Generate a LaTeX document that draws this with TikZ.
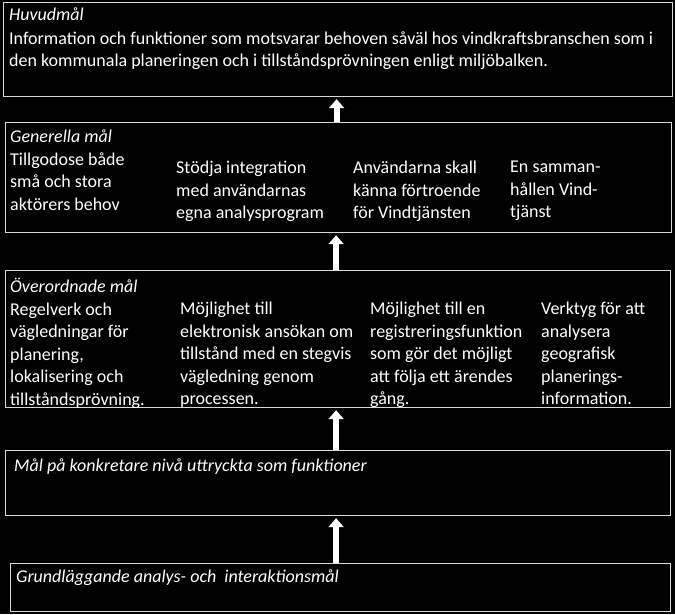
\documentclass[tikz,border=0pt]{standalone}
\usepackage{fontspec}
\setmainfont{Carlito}
\usetikzlibrary{arrows.meta}
\begin{document}
\begin{tikzpicture}[x=1pt,y=-1pt]
\tikzset{goalbox/.style={draw=white!85!black,line width=1.2pt,anchor=north west,inner sep=0pt}}
\tikzset{goaltext/.style={text=white,anchor=north west,align=left,inner sep=0pt,font=\fontsize{18}{22.5}\selectfont}}
\tikzset{uparrow/.style={white,line width=6pt,shorten >=2pt,-{Triangle[width=15pt,length=9pt]}}}
\fill[black] (0,0) rectangle (675,614);
\useasboundingbox (0,0) rectangle (675,614);
\node[goalbox,minimum width=669pt,minimum height=94pt] (huvud) at (3,2) {};
\node[goalbox,minimum width=666pt,minimum height=110pt] (generella) at (5,122) {};
\node[goalbox,minimum width=665pt,minimum height=137pt] (overordnade) at (5,270) {};
\node[goalbox,minimum width=665pt,minimum height=65pt] (konkret) at (5,450) {};
\node[goalbox,minimum width=660pt,minimum height=48pt] (grund) at (10,563) {};
\node[goaltext] (huvudtxt) at (9,8) {\textit{Huvudmål}\\[1pt]Information och funktioner som motsvarar behoven såväl hos vindkraftsbranschen som i\\den kommunala planeringen och i tillståndsprövningen enligt miljöbalken.};
\node[goaltext] (gen1) at (10,130) {\textit{Generella mål}\\Tillgodose både\\små och stora\\aktörers behov};
\node[goaltext] (gen2) at (176,161) {Stödja integration\\med användarnas\\egna analysprogram};
\node[goaltext] (gen3) at (353,161) {Användarna skall\\känna förtroende\\för Vindtjänsten};
\node[goaltext] (gen4) at (510,161) {En samman-\\hållen Vind-\\tjänst};
\node[goaltext] (over1) at (10,278) {\textit{Överordnade mål}\\Regelverk och\\vägledningar för\\planering,\\lokalisering och\\tillståndsprövning.};
\node[goaltext] (over2) at (180,302) {Möjlighet till\\elektronisk ansökan om\\tillstånd med en stegvis\\vägledning genom\\processen.};
\node[goaltext] (over3) at (370,302) {Möjlighet till en\\registreringsfunktion\\som gör det möjligt\\att följa ett ärendes\\gång.};
\node[goaltext] (over4) at (541,302) {Verktyg för att\\analysera\\geografisk\\planerings-\\information.};
\node[goaltext] (konkrettxt) at (14,459) {\textit{Mål på konkretare nivå uttryckta som funktioner}};
\node[goaltext] (grundtxt) at (16,570) {\textit{Grundläggande analys- och\ \ interaktionsmål}};
\draw[uparrow] ([xshift=-2pt]generella.north) -- ([xshift=-2pt]generella.north |- huvud.south);
\draw[uparrow] ([xshift=-2pt]overordnade.north) -- ([xshift=-2pt]overordnade.north |- generella.south);
\draw[uparrow] ([xshift=-2pt]konkret.north) -- ([xshift=-2pt]konkret.north |- overordnade.south);
\draw[uparrow] ([xshift=-2pt]konkret.north |- grund.north) -- ([xshift=-2pt]konkret.north |- konkret.south);
\end{tikzpicture}
\end{document}
